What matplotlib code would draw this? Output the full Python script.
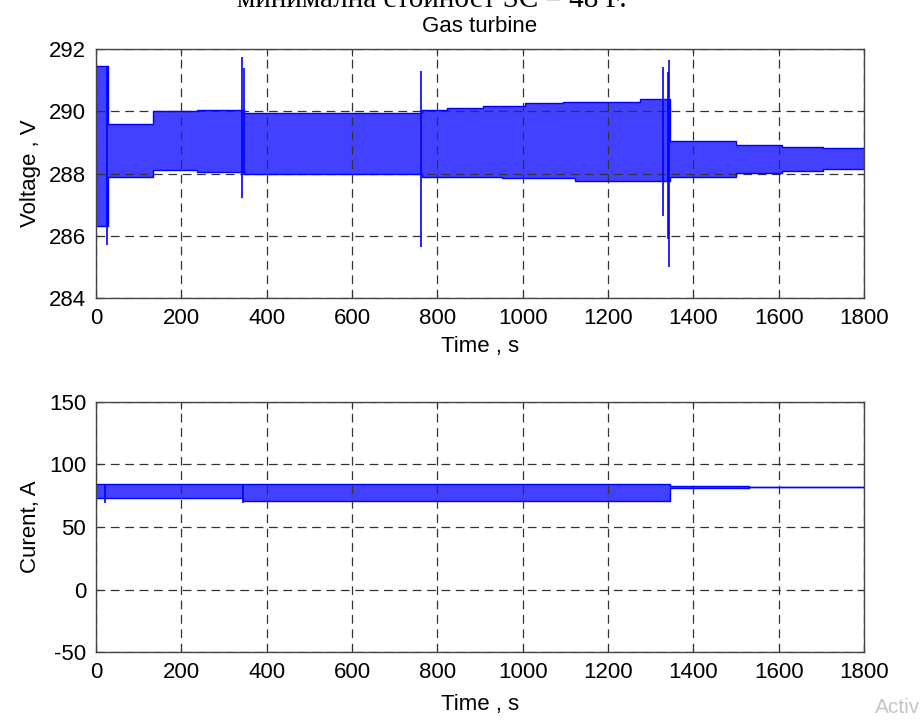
import matplotlib
matplotlib.use("Agg")
import matplotlib.pyplot as plt
import numpy as np

plt.rcParams['font.family'] = ['Liberation Sans', 'DejaVu Sans']
plt.rcParams['axes.unicode_minus'] = False

# voltage band envelope (step segments start at v_time)
v_time = [2, 29, 133, 236, 348, 765, 822, 907, 951, 1005, 1095, 1123, 1275, 1345, 1501, 1607, 1704, 1800]
v_upper = [291.45, 289.6, 290.0, 290.05, 289.95, 290.05, 290.1, 290.18, 290.18, 290.25, 290.3, 290.3,
           290.4, 289.04, 288.91, 288.86, 288.81, 288.81]
v_lower = [286.3, 287.9, 288.1, 288.05, 288.0, 287.9, 287.9, 287.9, 287.85, 287.85, 287.85, 287.77,
           287.77, 287.9, 288.01, 288.08, 288.16, 288.16]

# voltage spikes: time, high, low
v_spike_t = [0.5, 26, 343, 347, 762, 1330, 1340, 1343]
v_spike_hi = [291.5, 291.45, 291.75, 291.4, 291.3, 291.42, 291.26, 291.65]
v_spike_lo = [284.0, 285.7, 287.2, 288.0, 285.65, 286.64, 285.9, 285.0]

# current band envelope
i_time = [1, 345, 1345, 1531, 1800]
i_upper = [84.5, 84.0, 82.5, 82.0, 82.0]
i_lower = [73.5, 71.0, 81.0, 82.0, 82.0]

i_spike_t = [0.5, 20, 345]
i_spike_hi = [105, 84, 84]
i_spike_lo = [0, 69, 69]

blue = (0.15, 0.15, 1.0)
fs = 16

fig = plt.figure(figsize=(9.22, 7.26), dpi=100)
ax1 = fig.add_axes([0.1041, 0.5895, 0.833, 0.343])
ax2 = fig.add_axes([0.1041, 0.1019, 0.833, 0.3444])


def style(ax):
    ax.grid(True, color='#333333', linestyle=(0, (7, 4.5)), linewidth=0.9)
    ax.tick_params(direction='in', top=True, right=True, labelsize=fs, length=5, pad=7, color='#333333')
    for s in ax.spines.values():
        s.set_color('#444444')
        s.set_linewidth(1.0)
    ax.set_xlim(0, 1800)
    ax.set_xticks(np.arange(0, 1801, 200))


ax1.fill_between(v_time, v_lower, v_upper, step='post', color=blue, linewidth=0, alpha=0.88)
ax1.step(v_time, v_upper, where='post', color='blue', linewidth=1)
ax1.step(v_time, v_lower, where='post', color='blue', linewidth=1)
ax1.vlines(v_spike_t, v_spike_lo, v_spike_hi, color='blue', linewidth=1.2)
ax1.set_ylim(284, 292)
ax1.set_yticks(np.arange(284, 292.1, 2))
style(ax1)
ax1.set_title('Gas turbine', fontsize=fs, pad=12)
ax1.set_xlabel('Time , s', fontsize=fs, labelpad=5)
ax1.set_ylabel('Voltage , V', fontsize=fs, labelpad=6)

ax2.fill_between(i_time, i_lower, i_upper, step='post', color=blue, linewidth=0, alpha=0.88)
ax2.step(i_time, i_upper, where='post', color='blue', linewidth=1)
ax2.step(i_time, i_lower, where='post', color='blue', linewidth=1)
ax2.vlines(i_spike_t, i_spike_lo, i_spike_hi, color='blue', linewidth=1.2)
ax2.set_ylim(-50, 150)
ax2.set_yticks(np.arange(-50, 151, 50))
style(ax2)
ax2.set_xlabel('Time , s', fontsize=fs, labelpad=8)
ax2.set_ylabel('Curent, A', fontsize=fs, labelpad=6)

# clipped caption from the page above the figure
fig.text(0.468, 1 - 7 / 726, 'минимална стойност SC = 48 F.', family=['Liberation Serif', 'DejaVu Serif'],
         fontsize=21, ha='center', va='baseline')
fig.text(0.949, 0.018, 'Activ', fontsize=15, color='#c4c4c4', ha='left', va='baseline')

fig.savefig('out.png', dpi=100)
